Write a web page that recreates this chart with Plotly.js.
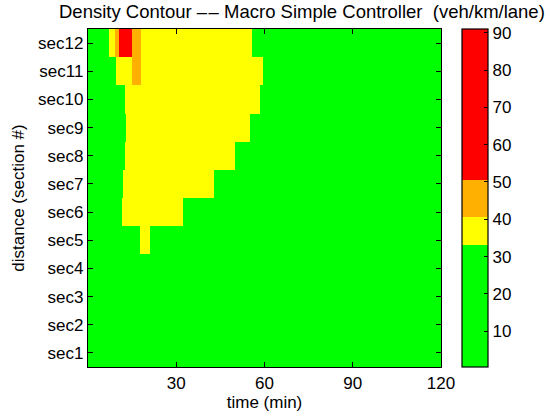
<!DOCTYPE html>
<html>
<head>
<meta charset="utf-8">
<script src="https://cdn.plot.ly/plotly-3.0.1.min.js"></script>
<style>
  html, body { margin: 0; padding: 0; background: #ffffff; }
  #chart { width: 550px; height: 416px; }
</style>
</head>
<body>
<div id="chart"></div>
<script>
// Road sections, bottom to top
const sections = ['sec1', 'sec2', 'sec3', 'sec4', 'sec5', 'sec6',
                  'sec7', 'sec8', 'sec9', 'sec10', 'sec11', 'sec12'];

// Time bin edges (min) of the density grid
const timeEdges = [0, 7.0, 9.1, 9.6, 10.4, 11.5, 11.9, 12.5, 13.0, 14.8, 17.6,
                   17.9, 21.0, 32.3, 42.7, 49.8, 54.9, 55.7, 58.3, 59.6, 120];

// Density (veh/km/lane) per section, one value per time bin
const sec1  = [12, 13, 13, 14, 14, 14, 14, 14, 15, 15, 15, 15, 15, 14, 13, 13, 13, 12, 12, 11];
const sec2  = [13, 14, 14, 15, 15, 15, 15, 16, 16, 16, 17, 17, 17, 16, 15, 14, 14, 13, 13, 12];
const sec3  = [14, 15, 15, 16, 17, 17, 17, 18, 18, 19, 19, 19, 19, 18, 17, 16, 15, 14, 14, 13];
const sec4  = [15, 16, 17, 18, 19, 20, 21, 22, 23, 25, 27, 28, 27, 24, 21, 19, 17, 16, 15, 13];
const sec5  = [16, 18, 20, 22, 24, 26, 27, 28, 29, 31, 34, 35, 31, 27, 23, 20, 18, 17, 16, 14];
const sec6  = [17, 20, 23, 26, 29, 34, 35, 36, 36, 37, 37, 37, 36, 31, 26, 22, 20, 18, 17, 15];
const sec7  = [18, 21, 24, 28, 31, 32, 34, 35, 36, 37, 38, 38, 37, 35, 30, 25, 22, 20, 18, 15];
const sec8  = [18, 22, 26, 29, 31, 32, 32, 34, 35, 37, 38, 38, 37, 36, 34, 30, 26, 23, 20, 16];
const sec9  = [19, 23, 27, 30, 31, 32, 32, 32, 34, 37, 38, 38, 38, 37, 36, 34, 31, 27, 23, 17];
const sec10 = [20, 24, 28, 31, 32, 32, 32, 34, 35, 38, 39, 39, 38, 37, 36, 35, 34, 33.5, 30, 18];
const sec11 = [21, 26, 30, 34, 36, 37, 38, 38, 39, 43, 42, 40, 39, 38, 37, 36, 35, 34, 33.5, 19];
const sec12 = [22, 35, 42, 45, 62, 78, 86, 91, 70, 46, 44, 40, 39, 38, 37, 36, 34, 31, 27, 18];

// Colour bands: green / yellow / orange / red
const bandColors = ['#00ff00', '#ffff00', '#ffb000', '#ff0000'];
const bandLimits = [33.0, 40.6, 50.5];
const zMin = 0.4;
const zMax = 91;
const cbTicks = [10, 20, 30, 40, 50, 60, 70, 80, 90];

const z = [sec1, sec2, sec3, sec4, sec5, sec6, sec7, sec8, sec9, sec10, sec11, sec12];

// Stepped colour scale built from the band limits
const stops = [0].concat(bandLimits.map(v => (v - zMin) / (zMax - zMin)), [1]);
const colorscale = [];
bandColors.forEach((c, i) => {
  colorscale.push([stops[i], c]);
  colorscale.push([stops[i + 1], c]);
});

const font = { family: '"Liberation Sans", Arial, Helvetica, sans-serif', size: 17, color: '#000000' };
const titleFont = Object.assign({}, font, { size: 18.5 });

const trace = {
  type: 'heatmap',
  x: timeEdges,
  y: sections,
  z: z,
  zmin: zMin,
  zmax: zMax,
  colorscale: colorscale,
  colorbar: {
    x: 1.0587,
    xanchor: 'left',
    xpad: 0,
    y: 0.5,
    yanchor: 'middle',
    len: 1,
    lenmode: 'fraction',
    ypad: 0,
    thickness: 26,
    thicknessmode: 'pixels',
    outlinewidth: 1.2,
    outlinecolor: '#000000',
    tickmode: 'array',
    tickvals: cbTicks,
    ticks: 'inside',
    ticklen: 4,
    tickcolor: '#000000',
    tickfont: font
  }
};

const layout = {
  width: 550,
  height: 416,
  margin: { l: 88, r: 109, t: 29, b: 49, pad: 0 },
  paper_bgcolor: '#ffffff',
  plot_bgcolor: '#ffffff',
  font: font,
  title: {
    text: 'Density Contour \u2013\u200A\u2013 Macro Simple Controller  (veh/km/lane)',
    font: titleFont,
    xref: 'paper',
    x: 0.606,
    xanchor: 'center',
    yref: 'container',
    y: 0.972,
    yanchor: 'middle'
  },
  xaxis: {
    range: [0, 120],
    tickmode: 'array',
    tickvals: [30, 60, 90, 120],
    ticks: 'inside',
    ticklen: 5,
    tickcolor: '#000000',
    showline: true,
    linecolor: '#000000',
    linewidth: 1.2,
    mirror: 'ticks',
    showgrid: false,
    zeroline: false,
    tickfont: font,
    title: { text: 'time (min)', font: font, standoff: 2 }
  },
  yaxis: {
    range: [-0.5, 11.5],
    ticks: 'inside',
    ticklen: 5,
    tickcolor: '#000000',
    showline: true,
    linecolor: '#000000',
    linewidth: 1.2,
    mirror: 'ticks',
    showgrid: false,
    zeroline: false,
    tickfont: font,
    title: { text: 'distance (section #)', font: font, standoff: 9 }
  }
};

Plotly.newPlot('chart', [trace], layout, { displayModeBar: false, staticPlot: true });
</script>
</body>
</html>
